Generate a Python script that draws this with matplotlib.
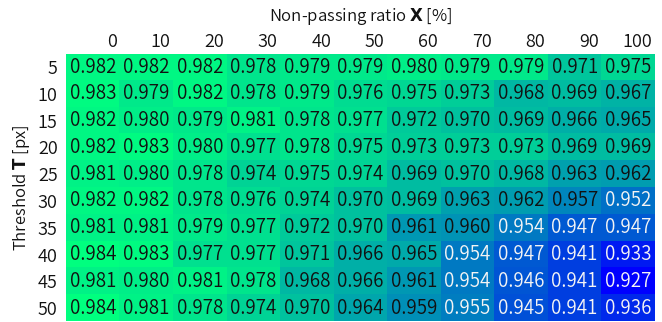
import matplotlib
matplotlib.use("Agg")
import matplotlib.pyplot as plt
import numpy as np

plt.rcParams['font.family'] = ['Noto Sans CJK JP', 'DejaVu Sans']

ratios = [0, 10, 20, 30, 40, 50, 60, 70, 80, 90, 100]
thresholds = [5, 10, 15, 20, 25, 30, 35, 40, 45, 50]

acc_t5 = [0.982, 0.982, 0.982, 0.978, 0.979, 0.979, 0.980, 0.979, 0.979, 0.971, 0.975]
acc_t10 = [0.983, 0.979, 0.982, 0.978, 0.979, 0.976, 0.975, 0.973, 0.968, 0.969, 0.967]
acc_t15 = [0.982, 0.980, 0.979, 0.981, 0.978, 0.977, 0.972, 0.970, 0.969, 0.966, 0.965]
acc_t20 = [0.982, 0.983, 0.980, 0.977, 0.978, 0.975, 0.973, 0.973, 0.973, 0.969, 0.969]
acc_t25 = [0.981, 0.980, 0.978, 0.974, 0.975, 0.974, 0.969, 0.970, 0.968, 0.963, 0.962]
acc_t30 = [0.982, 0.982, 0.978, 0.976, 0.974, 0.970, 0.969, 0.963, 0.962, 0.957, 0.952]
acc_t35 = [0.981, 0.981, 0.979, 0.977, 0.972, 0.970, 0.961, 0.960, 0.954, 0.947, 0.947]
acc_t40 = [0.984, 0.983, 0.977, 0.977, 0.971, 0.966, 0.965, 0.954, 0.947, 0.941, 0.933]
acc_t45 = [0.981, 0.980, 0.981, 0.978, 0.968, 0.966, 0.961, 0.954, 0.946, 0.941, 0.927]
acc_t50 = [0.984, 0.981, 0.978, 0.974, 0.970, 0.964, 0.959, 0.955, 0.945, 0.941, 0.936]

grid = np.array([acc_t5, acc_t10, acc_t15, acc_t20, acc_t25,
                 acc_t30, acc_t35, acc_t40, acc_t45, acc_t50])

fig = plt.figure(figsize=(6.62, 3.22), dpi=100)
ax = fig.add_axes([0.0997, 0.0016, 0.8897, 0.8319])

vmin, vmax = grid.min(), grid.max()
ax.imshow(grid, cmap='winter', vmin=vmin, vmax=vmax, aspect='auto',
          interpolation='nearest')

w = 350
for i in range(grid.shape[0]):
    for j in range(grid.shape[1]):
        v = grid[i, j]
        color = '#f4f4f4' if v < 0.956 else '#111111'
        ax.text(j, i, f"{v:.3f}", ha='center', va='center',
                fontsize=13.5, color=color, fontweight=w)

ax.set_xticks([])
ax.set_yticks(range(len(thresholds)))
ax.set_yticklabels([str(t) for t in thresholds], fontsize=13, fontweight=w)
ax.tick_params(axis='y', length=0, pad=6, labelcolor='#111111')

# column labels sit right-aligned with the right edge of the cell values
for j, r in enumerate(ratios):
    ax.text(j + 0.45, -0.58, str(r), ha='right', va='bottom',
            fontsize=13, color='#111111', fontweight=w)

fig.text(0.545, 0.948, r"Non-passing ratio $\mathbf{X}$ [%]",
         ha='center', va='center', fontsize=12, color='#111111',
         fontweight=w)
ax.set_ylabel(r"Threshold $\mathbf{T}$ [px]", fontsize=12, labelpad=4,
              color='#111111', fontweight=w)

for s in ax.spines.values():
    s.set_visible(False)

fig.savefig("out.png", dpi=100)
